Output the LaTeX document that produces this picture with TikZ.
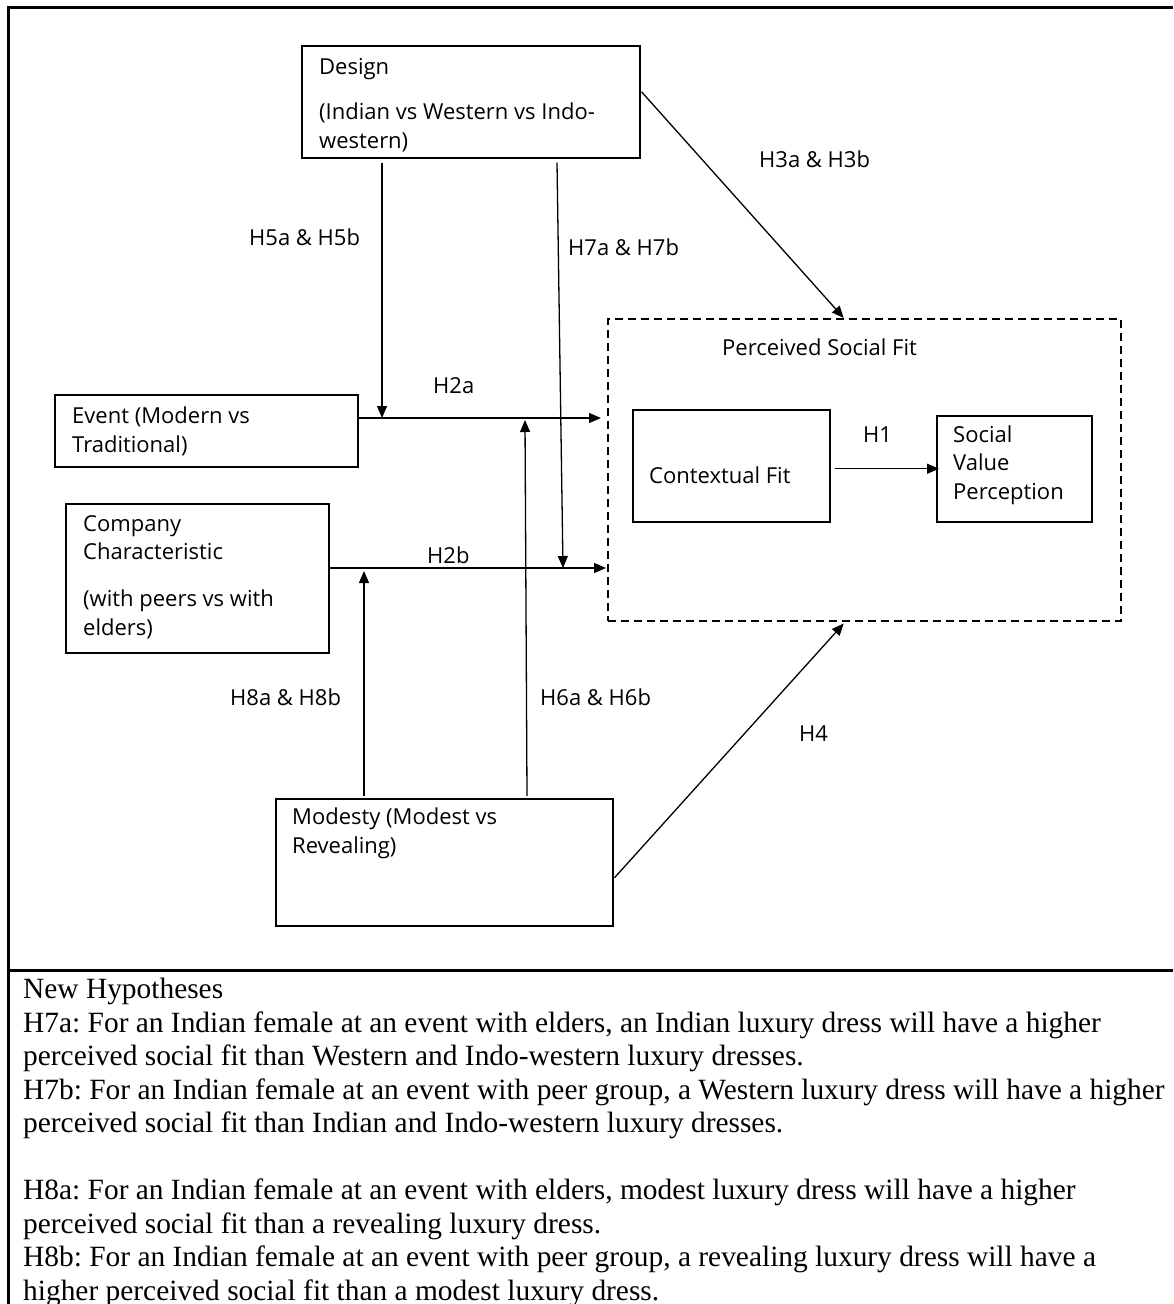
\documentclass[tikz,border=0pt]{standalone}
\usepackage{fontspec}
\setmainfont{Liberation Serif}
\newfontfamily\diafont{Open Sans}
\usetikzlibrary{arrows.meta,calc,positioning}
\frenchspacing

\tikzset{
  box/.style={draw, line width=1.5pt, anchor=north west, inner sep=0},
  fitbox/.style={box, dash pattern=on 8pt off 5pt},
  txt/.style={anchor=base west, inner sep=0, align=left, font=\diafont\fontsize{22}{28.5}\selectfont},
  arr/.style={-{Triangle[length=12pt,width=10pt]}, line width=1.3pt},
  frame/.style={line width=3pt},
}

\begin{document}
\begin{tikzpicture}[x=1pt,y=-1pt]
    \useasboundingbox (0,0) rectangle (1173,1304);
    % outer frame
    \draw[frame] (1173,7) -- (8,7) -- (8,1304);
    \draw[frame] (8,970) -- (1173,970);

    % boxes
    \node[box, minimum width=338, minimum height=112] (design) at (301,45) {};
    \node[box, minimum width=303, minimum height=72] (event) at (54,394) {};
    \node[box, minimum width=263, minimum height=149] (company) at (65,503) {};
    \node[box, minimum width=337, minimum height=127] (modesty) at (275,798) {};
    \node[fitbox, minimum width=513, minimum height=302] (fit) at (607,318) {};
    \node[box, minimum width=197, minimum height=112] (ctx) at (632,409) {};
    \node[box, minimum width=155, minimum height=106] (svp) at (936,415) {};

    % box texts (placed at the baseline of the last line)
    \node[txt] (design-t) at (319,148) {Design\\[16.5pt](Indian vs Western vs Indo-\\western)};
    \node[txt] (event-t) at (72,452) {Event (Modern vs\\Traditional)};
    \node[txt] (company-t) at (83,635) {Company\\Characteristic\\[18.5pt](with peers vs with\\elders)};
    \node[txt] (modesty-t) at (292,853) {Modesty (Modest vs\\Revealing)};
    \node[txt] (fit-t) at (722,355) {Perceived Social Fit};
    \node[txt] (ctx-t) at (649,483) {Contextual Fit};
    \node[txt] (svp-t) at (953,499) {Social\\Value\\Perception};

    % junction points
    \coordinate (h2a) at (0,418);
    \coordinate (h2b) at (0,568);
    \coordinate (h5) at (382,418);
    \coordinate (h7) at (563,568);
    \coordinate (h8) at (364,571);
    \coordinate (h6) at (525,420);

    % connectors
    \draw[arr] (event.east |- h2a) -- ($(fit.west |- h2a)+(-6,0)$);
    \draw[arr] (company.east |- h2b) -- ($(fit.west |- h2b)+(-1,0)$);
    \draw[arr] ($(design.south -| h5)+(0,4)$) -- (h5);
    \draw[arr] ($(design.south -| h7)+(-6,4)$) -- (h7);
    \draw[arr] ($(modesty.north -| h8)+(0,-2)$) -- (h8);
    \draw[arr] ($(modesty.north -| h6)+(2,-2)$) -- (h6);
    \draw[arr] ($(design.east)+(1,-10)$) -- ($(fit.north)+(-20.5,0)$);
    \draw[arr] ($(modesty.east)+(1,15.5)$) -- ($(fit.south)+(-20.5,2)$);
    \draw[arr] ($(ctx.east)+(4,3)$) -- ($(svp.west)+(3,0)$);

    % labels
    \node[txt] (l5) at (249,245) {H5a \& H5b};
    \node[txt] (l7) at (568,255) {H7a \& H7b};
    \node[txt] (l2a) at (433,393) {H2a};
    \node[txt] (l2b) at (427,563) {H2b};
    \node[txt] (l3) at (759,167) {H3a \& H3b};
    \node[txt] (l8) at (230,705) {H8a \& H8b};
    \node[txt] (l6) at (540,705) {H6a \& H6b};
    \node[txt] (l4) at (799,741) {H4};
    \node[txt] (l1) at (863,442) {H1};

    % hypotheses text (baseline of the last line)
    \node[anchor=base west, inner sep=0, align=left, font=\fontsize{29.4}{33.5}\selectfont] (hyp) at (23,1300)
      {New Hypotheses\\
       H7a: For an Indian female at an event with elders, an Indian luxury dress will have a higher\\
       perceived social fit than Western and Indo-western luxury dresses.\\
       H7b: For an Indian female at an event with peer group, a Western luxury dress will have a higher\\
       perceived social fit than Indian and Indo-western luxury dresses.\\[33.5pt]
       H8a: For an Indian female at an event with elders, modest luxury dress will have a higher\\
       perceived social fit than a revealing luxury dress.\\
       H8b: For an Indian female at an event with peer group, a revealing luxury dress will have a\\
       higher perceived social fit than a modest luxury dress.};
\end{tikzpicture}
\end{document}
